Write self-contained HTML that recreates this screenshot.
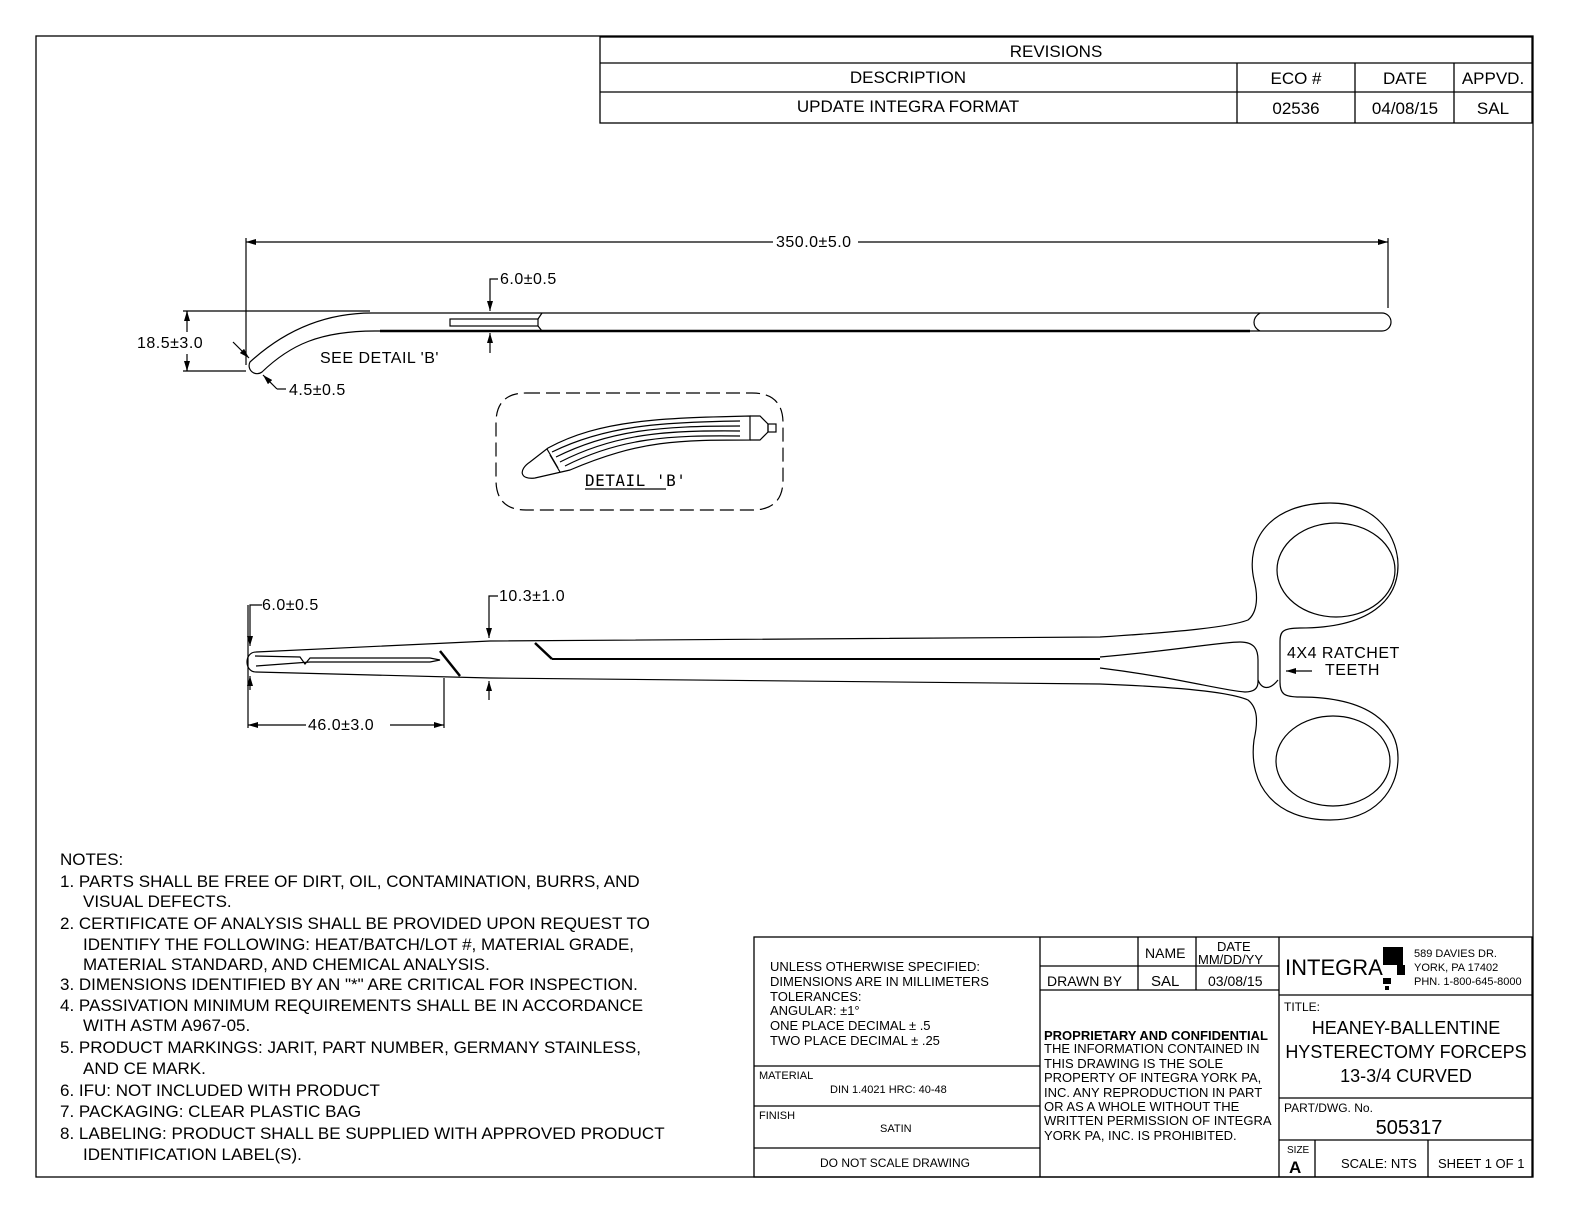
<!DOCTYPE html>
<html><head><meta charset="utf-8"><style>
html,body{margin:0;padding:0;background:#fff}
svg{display:block}
text{font-family:"Liberation Sans",sans-serif;fill:#000}
.m{font-family:"DejaVu Sans Mono","Liberation Mono",monospace;font-size:16px;letter-spacing:0.5px}
</style></head><body>
<svg width="1584" height="1224" viewBox="0 0 1584 1224" xmlns="http://www.w3.org/2000/svg">
<defs><marker id="a" viewBox="0 0 10 6" refX="10" refY="3" markerWidth="10" markerHeight="6" orient="auto-start-reverse" markerUnits="userSpaceOnUse"><path d="M0,0L10,3L0,6z" fill="#000"/></marker></defs>
<g fill="none" stroke="#000" stroke-width="1.3">
<rect x="36" y="36" width="1497" height="1141"/>
<rect x="600" y="37" width="932" height="86"/>
<line x1="600" y1="63" x2="1532" y2="63"/><line x1="600" y1="92" x2="1532" y2="92"/>
<line x1="1237" y1="63" x2="1237" y2="123"/><line x1="1355" y1="63" x2="1355" y2="123"/><line x1="1454" y1="63" x2="1454" y2="123"/>
</g>
<g font-size="17" text-anchor="middle">
<text x="1056" y="57">REVISIONS</text>
<text x="908" y="83">DESCRIPTION</text><text x="1296" y="84">ECO #</text><text x="1405" y="84">DATE</text><text x="1493" y="84">APPVD.</text>
<text x="908" y="112">UPDATE INTEGRA FORMAT</text><text x="1296" y="114">02536</text><text x="1405" y="114">04/08/15</text><text x="1493" y="114">SAL</text>
</g>

<g fill="none" stroke="#000" stroke-width="1.2">
<line x1="246" y1="238" x2="246" y2="365"/><line x1="1388" y1="238" x2="1388" y2="308"/>
<line x1="246" y1="242" x2="773" y2="242" marker-start="url(#a)"/><line x1="858" y1="242" x2="1388" y2="242" marker-end="url(#a)"/>
<path d="M372,313 L1382,313 A9,9 0 0 1 1382,331 L375,331 C320,331 290,345 262,372 A8,8 0 0 1 250,362 C285,330 325,313 372,313"/>
<path d="M1260,313 C1252,318 1252,327 1260,331"/>
<line x1="380" y1="331" x2="1250" y2="331" stroke-width="2.5"/>
<rect x="450" y="319" width="88" height="7"/>
<line x1="538" y1="319" x2="542" y2="313"/><line x1="538" y1="326" x2="542" y2="331"/>
<line x1="183" y1="311" x2="370" y2="311"/><line x1="183" y1="371" x2="246" y2="371"/>
<line x1="187" y1="318" x2="187" y2="311" marker-end="url(#a)"/><line x1="187" y1="364" x2="187" y2="371" marker-end="url(#a)"/>
<line x1="187" y1="311" x2="187" y2="332"/><line x1="187" y1="354" x2="187" y2="371"/>
<line x1="233" y1="342" x2="249" y2="358" marker-end="url(#a)"/>
<line x1="277" y1="389" x2="263" y2="375" marker-end="url(#a)"/><line x1="277" y1="389" x2="286" y2="389"/>
<path d="M498,279 L490,279 L490,311" marker-end="url(#a)"/>
<line x1="490" y1="353" x2="490" y2="333" marker-end="url(#a)"/>
</g>
<g class="m">
<text x="776" y="247">350.0±5.0</text>
<text x="500" y="284">6.0±0.5</text>
<text x="137" y="348">18.5±3.0</text>
<text x="320" y="363">SEE DETAIL 'B'</text>
<text x="289" y="395">4.5±0.5</text>
</g>

<g fill="none" stroke="#000" stroke-width="1.2">
<path d="M526,393 L752,393 Q783,393 783,423 L783,480 Q783,510 752,510 L526,510 Q496,510 496,480 L496,423 Q496,393 526,393" stroke-dasharray="14,6"/>
<path d="M548,448 C600,420 660,418 750,416 L750,440 C680,440 640,440 570,470 L535,478 C520,480 518,470 530,462 Z"/>
<path d="M552,452 C605,426 660,422 740,421 M556,457 C610,430 660,426 740,426 M560,462 C615,434 665,430 740,431 M565,466 C620,438 670,435 740,436"/>
<line x1="550" y1="455" x2="560" y2="472"/><line x1="547" y1="449" x2="558" y2="468"/>
<path d="M750,416 L760,416 L768,424 L768,432 L760,440 L750,440"/>
<rect x="768" y="424" width="8" height="8"/>
<line x1="585" y1="489" x2="666" y2="489"/>
</g>
<text class="m" x="585" y="486">DETAIL 'B'</text>

<g fill="none" stroke="#000" stroke-width="1.2">
<path d="M256,652 L490,641 L1100,637 C1180,632 1230,627 1248,620 C1258,612 1258,595 1254,580 C1245,540 1270,503 1330,503 C1380,503 1398,540 1398,565 C1398,600 1370,628 1300,628 C1282,628 1280,632 1280,642 L1280,682 C1280,694 1284,697 1300,697 C1370,697 1398,725 1398,758 C1398,790 1375,820 1330,820 C1275,820 1248,785 1254,740 C1258,722 1258,708 1248,700 C1230,692 1180,687 1100,684 L490,678 L256,672 C244,672 244,652 256,652"/>
<ellipse cx="1336" cy="570" rx="59" ry="47"/>
<ellipse cx="1333" cy="761" rx="57" ry="45"/>
<path d="M1100,657 C1180,650 1220,642 1240,642 C1255,642 1258,650 1258,660 L1258,682 C1258,690 1252,692 1245,692 C1220,690 1180,678 1100,668"/>
<path d="M1258,680 C1262,690 1270,690 1278,680"/>
<path d="M255,656 L300,657 L305,664 L310,658 L430,658 L440,660 L430,662 L310,662 L256,666"/>
<line x1="440" y1="651" x2="460" y2="676" stroke-width="2.5"/>
<line x1="535" y1="643" x2="552" y2="659" stroke-width="2.5"/>
<line x1="552" y1="659" x2="1100" y2="659" stroke-width="2"/>
<line x1="248" y1="605" x2="248" y2="728"/>
<path d="M262,605 L250,605 L250,646" marker-end="url(#a)"/>
<line x1="250" y1="690" x2="250" y2="676" marker-end="url(#a)"/>
<line x1="444" y1="678" x2="444" y2="728"/>
<line x1="248" y1="725" x2="306" y2="725" marker-start="url(#a)"/><line x1="390" y1="725" x2="444" y2="725" marker-end="url(#a)"/>
<path d="M498,596 L489,596 L489,638" marker-end="url(#a)"/>
<line x1="489" y1="700" x2="489" y2="681" marker-end="url(#a)"/>
<line x1="1312" y1="671" x2="1286" y2="671" marker-end="url(#a)"/>
</g>
<g class="m">
<text x="262" y="610">6.0±0.5</text>
<text x="499" y="601">10.3±1.0</text>
<text x="308" y="730">46.0±3.0</text>
<text x="1287" y="658">4X4 RATCHET</text>
<text x="1325" y="675">TEETH</text>
</g>

<g font-size="17">
<text x="60" y="865">NOTES:</text>
<text x="60" y="887">1.  PARTS SHALL BE FREE OF DIRT, OIL, CONTAMINATION, BURRS, AND</text>
<text x="83" y="907">VISUAL DEFECTS.</text>
<text x="60" y="929">2.  CERTIFICATE OF ANALYSIS SHALL BE PROVIDED UPON REQUEST TO</text>
<text x="83" y="950">IDENTIFY THE FOLLOWING: HEAT/BATCH/LOT #, MATERIAL GRADE,</text>
<text x="83" y="970">MATERIAL STANDARD, AND CHEMICAL ANALYSIS.</text>
<text x="60" y="990">3.  DIMENSIONS IDENTIFIED BY AN "*" ARE CRITICAL FOR INSPECTION.</text>
<text x="60" y="1011">4.  PASSIVATION MINIMUM REQUIREMENTS SHALL BE IN ACCORDANCE</text>
<text x="83" y="1031">WITH ASTM A967-05.</text>
<text x="60" y="1053">5.  PRODUCT MARKINGS:  JARIT, PART NUMBER, GERMANY STAINLESS,</text>
<text x="83" y="1074">AND CE MARK.</text>
<text x="60" y="1096">6.  IFU: NOT INCLUDED WITH PRODUCT</text>
<text x="60" y="1117">7.  PACKAGING: CLEAR PLASTIC BAG</text>
<text x="60" y="1139">8.  LABELING: PRODUCT SHALL BE SUPPLIED WITH APPROVED PRODUCT</text>
<text x="83" y="1160">IDENTIFICATION LABEL(S).</text>
</g>

<g fill="none" stroke="#000" stroke-width="1.3">
<rect x="754" y="937" width="778" height="240"/>
<line x1="1040" y1="937" x2="1040" y2="1177"/><line x1="1279" y1="937" x2="1279" y2="1177"/>
<line x1="754" y1="1066" x2="1040" y2="1066"/><line x1="754" y1="1106" x2="1040" y2="1106"/><line x1="754" y1="1148" x2="1040" y2="1148"/>
<line x1="1040" y1="966" x2="1279" y2="966"/><line x1="1040" y1="990" x2="1279" y2="990"/>
<line x1="1138" y1="937" x2="1138" y2="990"/><line x1="1196" y1="937" x2="1196" y2="990"/>
<line x1="1279" y1="995" x2="1532" y2="995"/><line x1="1279" y1="1098" x2="1532" y2="1098"/><line x1="1279" y1="1140" x2="1532" y2="1140"/>
<line x1="1315" y1="1140" x2="1315" y2="1177"/><line x1="1428" y1="1140" x2="1428" y2="1177"/>
</g>
<g font-size="13">
<text x="770" y="971">UNLESS OTHERWISE SPECIFIED:</text>
<text x="770" y="986">DIMENSIONS ARE IN MILLIMETERS</text>
<text x="770" y="1001">TOLERANCES:</text>
<text x="770" y="1015">ANGULAR: ±1°</text>
<text x="770" y="1030">ONE PLACE DECIMAL ± .5</text>
<text x="770" y="1045">TWO PLACE DECIMAL ± .25</text>
<text x="759" y="1079" font-size="11">MATERIAL</text>
<text x="830" y="1093" font-size="11">DIN 1.4021   HRC: 40-48</text>
<text x="759" y="1119" font-size="11">FINISH</text>
<text x="880" y="1132" font-size="11">SATIN</text>
<text x="820" y="1167" font-size="12">DO NOT SCALE DRAWING</text>
<text x="1145" y="958" font-size="14">NAME</text>
<text x="1217" y="951">DATE</text>
<text x="1198" y="964">MM/DD/YY</text>
<text x="1047" y="986" font-size="14">DRAWN BY</text>
<text x="1151" y="986" font-size="15">SAL</text>
<text x="1208" y="986" font-size="14">03/08/15</text>
<text x="1044" y="1040" font-weight="bold">PROPRIETARY AND CONFIDENTIAL</text>
<text x="1044" y="1053">THE INFORMATION CONTAINED IN</text>
<text x="1044" y="1068">THIS DRAWING IS THE SOLE</text>
<text x="1044" y="1082">PROPERTY OF INTEGRA YORK PA,</text>
<text x="1044" y="1097">INC.  ANY REPRODUCTION IN PART</text>
<text x="1044" y="1111">OR AS A WHOLE WITHOUT THE</text>
<text x="1044" y="1125">WRITTEN PERMISSION OF INTEGRA</text>
<text x="1044" y="1140">YORK PA, INC. IS PROHIBITED.</text>
<text x="1285" y="975" font-size="22">INTEGRA</text>
<text x="1414" y="957" font-size="11">589 DAVIES DR.</text>
<text x="1414" y="971" font-size="11">YORK, PA 17402</text>
<text x="1414" y="985" font-size="11">PHN. 1-800-645-8000</text>
<text x="1284" y="1011" font-size="12">TITLE:</text>
<text x="1406" y="1034" font-size="18" text-anchor="middle">HEANEY-BALLENTINE</text>
<text x="1406" y="1058" font-size="18" text-anchor="middle">HYSTERECTOMY FORCEPS</text>
<text x="1406" y="1082" font-size="18" text-anchor="middle">13-3/4 CURVED</text>
<text x="1284" y="1112" font-size="12">PART/DWG. No.</text>
<text x="1409" y="1134" font-size="20" text-anchor="middle">505317</text>
<text x="1287" y="1153" font-size="10">SIZE</text>
<text x="1289" y="1173" font-size="17" font-weight="bold">A</text>
<text x="1341" y="1168" font-size="13">SCALE: NTS</text>
<text x="1438" y="1168" font-size="13">SHEET 1 OF 1</text>
</g>
<g fill="#000"><rect x="1383" y="947" width="20" height="18"/><rect x="1397" y="965" width="8" height="10"/><rect x="1383" y="978" width="8" height="6"/><rect x="1385" y="986" width="4" height="4"/></g>
</svg>
</body></html>
